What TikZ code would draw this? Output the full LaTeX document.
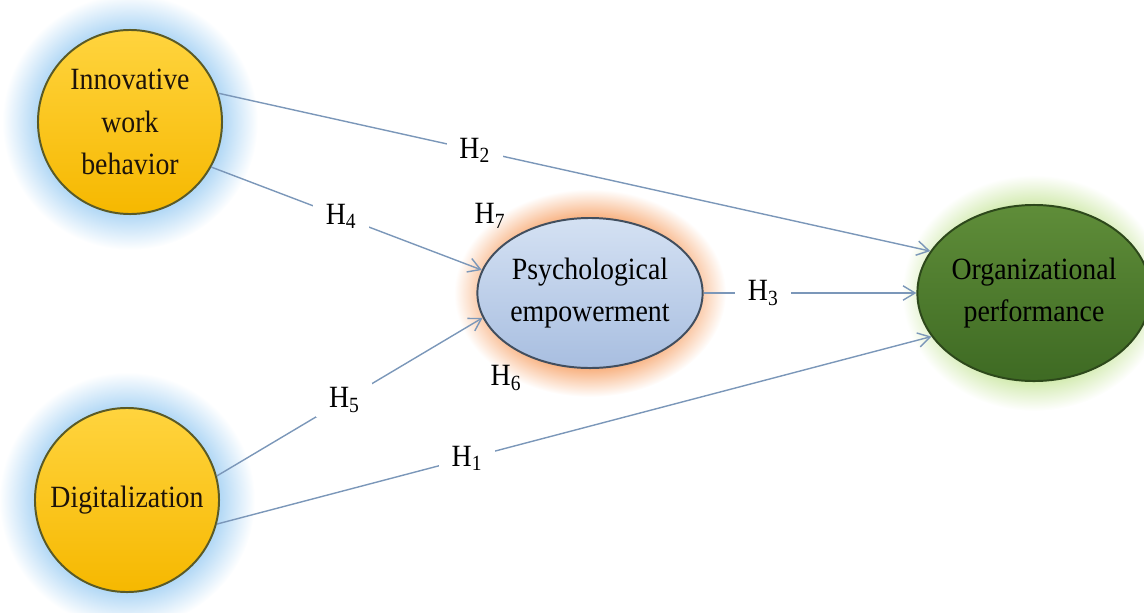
\documentclass[tikz,border=0pt]{standalone}
\usepackage{fontspec}
\setmainfont{Liberation Serif}[FakeStretch=0.9]
\usetikzlibrary{shapes.geometric,arrows.meta}

\definecolor{glowblue}{HTML}{A6D2F4}
\definecolor{glowred}{HTML}{F8B07E}
\definecolor{glowgreen}{HTML}{CDE8A6}
\definecolor{linkcol}{HTML}{7B97B9}
\definecolor{goldtop}{HTML}{FFD43E}
\definecolor{goldbot}{HTML}{F6B800}
\definecolor{goldrim}{HTML}{5A5A26}
\definecolor{skytop}{HTML}{D4E1F3}
\definecolor{skybot}{HTML}{A8BEE0}
\definecolor{skyrim}{HTML}{414E5E}
\definecolor{leaftop}{HTML}{5F8D39}
\definecolor{leafbot}{HTML}{3E6A23}
\definecolor{leafrim}{HTML}{2D481B}

\pgfdeclareradialshading{haloblue}{\pgfpoint{0bp}{0bp}}{color(0bp)=(glowblue); color(17bp)=(glowblue); color(25bp)=(white); color(50bp)=(white)}
\pgfdeclareradialshading{halored}{\pgfpoint{0bp}{0bp}}{color(0bp)=(glowred); color(18bp)=(glowred); color(25bp)=(white); color(50bp)=(white)}
\pgfdeclareradialshading{halogreen}{\pgfpoint{0bp}{0bp}}{color(0bp)=(glowgreen); color(18bp)=(glowgreen); color(25bp)=(white); color(50bp)=(white)}

\tikzset{
  construct/.style={circle, minimum size=4.6cm, inner sep=0pt, align=center,
    line width=1.4pt, draw=goldrim, top color=goldtop, bottom color=goldbot,
    text=black!85!brown},
  mediator/.style={ellipse, minimum width=5.35cm, minimum height=3.75cm, inner sep=0pt,
    align=center, line width=1.4pt, draw=skyrim, top color=skytop, bottom color=skybot},
  outcome/.style={ellipse, minimum width=5.2cm, minimum height=4.4cm, inner sep=0pt,
    align=center, line width=1.4pt, draw=leafrim, top color=leaftop, bottom color=leafbot,
    text=black},
  link/.style={draw=linkcol, line width=1pt},
  arr/.style={link, -{Straight Barb[length=3mm,width=3.6mm]}},
  hyp/.style={fill=white, inner xsep=9pt, inner ysep=3pt, font=\fontsize{22}{26}\selectfont}
}

\begin{document}
\begin{tikzpicture}[x=0.025cm, y=-0.025cm, font=\fontsize{22}{30}\selectfont]
    \useasboundingbox (0,0) rectangle (1144,612);

    % Glow behind the constructs
    \shade[shading=haloblue] (130,122) circle (128);
    \shade[shading=haloblue] (127,500) circle (128);
    \shade[shading=halored] (590,293) ellipse [x radius=136, y radius=104];
    \shade[shading=halogreen] (1034,293) ellipse [x radius=132, y radius=118];

    % Constructs
    \node[construct] (iwb) at (130,122) {Innovative\\work\\behavior};
    \node[construct] (dig) at (127,500) {Digitalization};
    \node[mediator] (pe) at (590,293) {Psychological\\empowerment};
    \node[outcome] (op) at (1034,293) {Organizational\\performance};

    % Paths with hypotheses
    \draw[arr] (iwb.18) -- node[hyp, pos=0.36] (h2) {H\textsubscript{2}} (op.158);
    \draw[arr] (iwb.-29) -- node[hyp, pos=0.48] (h4) {H\textsubscript{4}} (pe.168);
    \draw[arr] (dig.15) -- node[hyp, pos=0.48] (h5) {H\textsubscript{5}} (pe.193);
    \draw[arr] (dig.-15) -- node[hyp, pos=0.35] (h1) {H\textsubscript{1}} (op.203);
    \draw[arr] (pe.east) -- node[hyp, pos=0.28] (h3) {H\textsubscript{3}} (op.west);

    % Mediation labels
    \node[font=\fontsize{22}{26}\selectfont] (h7) at (490,216) {H\textsubscript{7}};
    \node[font=\fontsize{22}{26}\selectfont] (h6) at (506,378) {H\textsubscript{6}};
\end{tikzpicture}
\end{document}
